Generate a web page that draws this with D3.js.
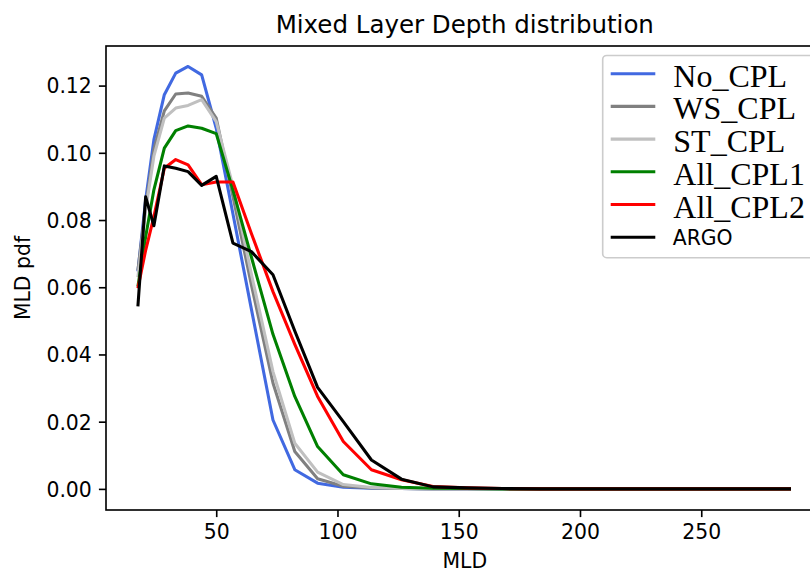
<!DOCTYPE html>
<html>
<head>
<meta charset="utf-8">
<script src="https://cdn.jsdelivr.net/npm/d3@7"></script>
<style>
  html, body { margin: 0; padding: 0; background: #fff; }
  svg { display: block; }
</style>
</head>
<body>
<svg id="chart" width="810" height="573"></svg>
<script>
// ---- data ----
const mld = [17.7, 20.9, 24.3, 28.6, 33.3, 38.4, 44.0, 50.0, 56.9, 64.5, 73.4, 82.4, 91.8, 102.4, 114.0, 126.4, 139.4, 153.2, 168, 184, 200, 217, 234, 252, 270, 287];

const noCpl   = [0.0647,0.0860,0.1039,0.1173,0.1237,0.1257,0.1232,0.1073,0.0818,0.0535,0.0205,0.0057,0.0017,0.0005,0.0002,0.0001,0,0,0,0,0,0,0,0,0,0];
const wsCpl   = [0.0650,0.0840,0.1010,0.1125,0.1175,0.1178,0.1168,0.1103,0.0870,0.0607,0.0315,0.0111,0.0030,0.0008,0.0003,0.0001,0,0,0,0,0,0,0,0,0,0];
const stCpl   = [0.0630,0.0830,0.0990,0.1103,0.1133,0.1141,0.1158,0.1093,0.0900,0.0639,0.0349,0.0136,0.0050,0.0013,0.0004,0.0001,0,0,0,0,0,0,0,0,0,0];
const allCpl1 = [0.0602,0.0750,0.0890,0.1014,0.1066,0.1080,0.1073,0.1057,0.0889,0.0690,0.0460,0.0275,0.0126,0.0042,0.0015,0.0005,0.0002,0.0001,0,0,0,0,0,0,0,0];
const allCpl2 = [0.0597,0.0710,0.0810,0.0954,0.0980,0.0964,0.0905,0.0913,0.0913,0.0760,0.0587,0.0430,0.0275,0.0141,0.0057,0.0027,0.0007,0.0003,0.0001,0,0,0,0,0,0,0];
const argo    = [0.0543,0.0869,0.0783,0.0961,0.0954,0.0944,0.0903,0.0930,0.0731,0.0706,0.0637,0.0470,0.0302,0.0200,0.0086,0.0029,0.0006,0.0003,0.0001,0,0,0,0,0,0,0];

const seriesNames  = ["No_CPL", "WS_CPL", "ST_CPL", "All_CPL1", "All_CPL2", "ARGO"];
const seriesValues = [noCpl, wsCpl, stCpl, allCpl1, allCpl2, argo];
const seriesColors = ["#4169e1", "#808080", "#c0c0c0", "#008000", "#ff0000", "#000000"];

const xTicks = [50, 100, 150, 200, 250];
const yTicks = [0.00, 0.02, 0.04, 0.06, 0.08, 0.10, 0.12];

const titleText = "Mixed Layer Depth distribution";
const xLabel = "MLD";
const yLabel = "MLD pdf";

// ---- layout ----
const svg = d3.select("#chart");
const pLeft = 106, pRight = 823.6, pTop = 46, pBottom = 510;
const sansFont = "'DejaVu Sans', sans-serif";
const tickFont = 20.4;

const x = d3.scaleLinear().domain([4.55, 300.45]).range([pLeft, pRight]);
const y = d3.scaleLinear().domain([-0.00628, 0.13178]).range([pBottom, pTop]);

// lines
const line = d3.line().x((d, i) => x(mld[i])).y(d => y(d));
const lineG = svg.append("g");
seriesValues.forEach((vals, k) => {
  lineG.append("path")
    .datum(vals)
    .attr("d", line)
    .attr("fill", "none")
    .attr("stroke", seriesColors[k])
    .attr("stroke-width", 3.06)
    .attr("stroke-linejoin", "round")
    .attr("stroke-linecap", "butt");
});

// axes
const xAxis = d3.axisBottom(x).tickValues(xTicks).tickSize(7.1).tickPadding(6.5).tickFormat(d3.format("d"));
const yAxis = d3.axisLeft(y).tickValues(yTicks).tickSize(7.1).tickPadding(7.1).tickFormat(d3.format(".2f"));

const gx = svg.append("g").attr("transform", `translate(0,${pBottom})`).call(xAxis);
const gy = svg.append("g").attr("transform", `translate(${pLeft},0)`).call(yAxis);
[gx, gy].forEach(g => {
  g.select(".domain").remove();
  g.selectAll(".tick line").attr("stroke", "#000").attr("stroke-width", 1.63);
  g.selectAll(".tick text").attr("fill", "#000")
    .style("font-family", sansFont).style("font-size", tickFont + "px");
});
gx.selectAll(".tick text").attr("dy", "0.74em");
gy.selectAll(".tick text").attr("dy", "0.36em");

// spines
const spines = svg.append("g").attr("stroke", "#000").attr("stroke-width", 1.63).attr("fill", "none");
spines.append("rect").attr("x", pLeft).attr("y", pTop).attr("width", pRight - pLeft).attr("height", pBottom - pTop);

// title and labels
svg.append("text").attr("x", (pLeft + pRight) / 2).attr("y", 33.3)
  .attr("text-anchor", "middle").style("font-family", sansFont).style("font-size", "24.5px")
  .text(titleText);
svg.append("text").attr("x", (pLeft + pRight) / 2).attr("y", 568)
  .attr("text-anchor", "middle").style("font-family", sansFont).style("font-size", tickFont + "px")
  .text(xLabel);
svg.append("text").attr("transform", `translate(30,${(pTop + pBottom) / 2}) rotate(-90)`)
  .attr("text-anchor", "middle").style("font-family", sansFont).style("font-size", tickFont + "px")
  .text(yLabel);

// legend
const legG = svg.append("g");
legG.append("rect")
  .attr("x", 602.7).attr("y", 55.5).attr("width", 212).attr("height", 202.2)
  .attr("rx", 4).attr("ry", 4)
  .attr("fill", "#fff").attr("fill-opacity", 0.8)
  .attr("stroke", "#cccccc").attr("stroke-width", 1.63);
const rowY0 = 73.7, rowStep = 32.7;
seriesNames.forEach((name, k) => {
  const yy = rowY0 + k * rowStep;
  legG.append("line").attr("x1", 610.7).attr("x2", 655.3).attr("y1", yy).attr("y2", yy)
    .attr("stroke", seriesColors[k]).attr("stroke-width", 3.06);
  const isLatex = name !== "ARGO";
  legG.append("text")
    .attr("x", isLatex ? 673.3 : 672.7)
    .attr("y", isLatex ? yy + 13 : yy + 7.6)
    .style("font-family", isLatex ? "'Liberation Serif', 'DejaVu Serif', serif" : sansFont)
    .style("font-size", isLatex ? "32px" : tickFont + "px")
    .text(name);
});
</script>
</body>
</html>
